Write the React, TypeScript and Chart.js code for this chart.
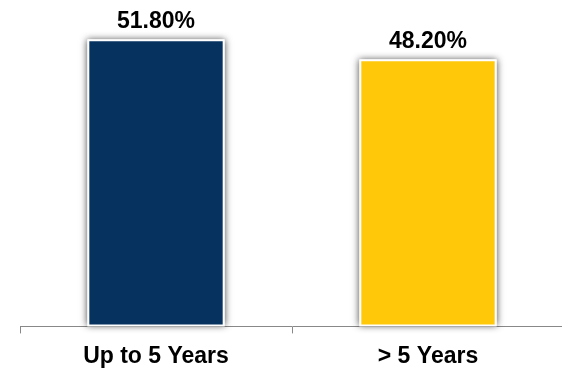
import React, { useEffect, useRef } from "react";
import { Chart, registerables } from "chart.js";

Chart.register(...registerables);

const categories = ["Up to 5 Years", "> 5 Years"];
const values = [51.8, 48.2];
const barColors = ["#05325f", "#ffc90a"];
const valueLabels = ["51.80%", "48.20%"];

const FONT = "'Liberation Sans', Arial, Helvetica, sans-serif";

export default function App() {
  const ref = useRef<HTMLCanvasElement | null>(null);

  useEffect(() => {
    if (!ref.current) return;
    const shadowPlugin = {
      id: "shadowAndLabels",
      beforeDatasetsDraw(chart: any) {
        const ctx = chart.ctx;
        const meta = chart.getDatasetMeta(0);
        ctx.save();
        ctx.shadowColor = "rgba(0,0,0,0.7)";
        ctx.shadowBlur = 7;
        ctx.shadowOffsetX = 0;
        ctx.shadowOffsetY = 0;
        ctx.fillStyle = "#ffffff";
        meta.data.forEach((bar: any) => {
          const p = bar.getProps(["x", "y", "base", "width"], true);
          ctx.fillRect(p.x - p.width / 2, p.y, p.width, p.base - p.y);
        });
        ctx.restore();
      },
      afterDatasetsDraw(chart: any) {
        const ctx = chart.ctx;
        const meta = chart.getDatasetMeta(0);
        ctx.save();
        ctx.font = `bold 23px ${FONT}`;
        ctx.fillStyle = "#000000";
        ctx.textAlign = "center";
        ctx.textBaseline = "alphabetic";
        meta.data.forEach((bar: any, i: number) => {
          ctx.fillText(valueLabels[i], bar.x, bar.y - 11);
        });
        ctx.restore();
      },
    };

    const chart = new Chart(ref.current, {
      type: "bar",
      data: {
        labels: categories,
        datasets: [
          {
            data: values,
            backgroundColor: barColors,
            borderColor: "#ffffff",
            borderWidth: 2,
            borderSkipped: false,
            barPercentage: 0.505,
            categoryPercentage: 1,
          },
        ],
      },
      options: {
        responsive: false,
        animation: false,
        devicePixelRatio: 1,
        layout: { padding: { left: 20, right: 2, top: 5, bottom: 0 } },
        plugins: {
          legend: { display: false },
          tooltip: { enabled: false },
        },
        scales: {
          x: {
            offset: true,
            border: { display: true, color: "#888888", width: 1 },
            grid: {
              display: true,
              offset: true,
              drawOnChartArea: false,
              drawTicks: true,
              tickLength: 7,
              color: "#888888",
            },
            ticks: {
              color: "#000000",
              padding: 9,
              font: { family: FONT, size: 23, weight: "bold" },
            },
          },
          y: {
            display: false,
            min: 0,
            max: 58,
          },
        },
      },
      plugins: [shadowPlugin],
    });
    return () => chart.destroy();
  }, []);

  return (
    <div style={{ position: "fixed", left: 0, top: 0, width: 562, height: 369, overflow: "hidden", background: "#ffffff" }}>
      <canvas ref={ref} width={566} height={379} />
    </div>
  );
}
